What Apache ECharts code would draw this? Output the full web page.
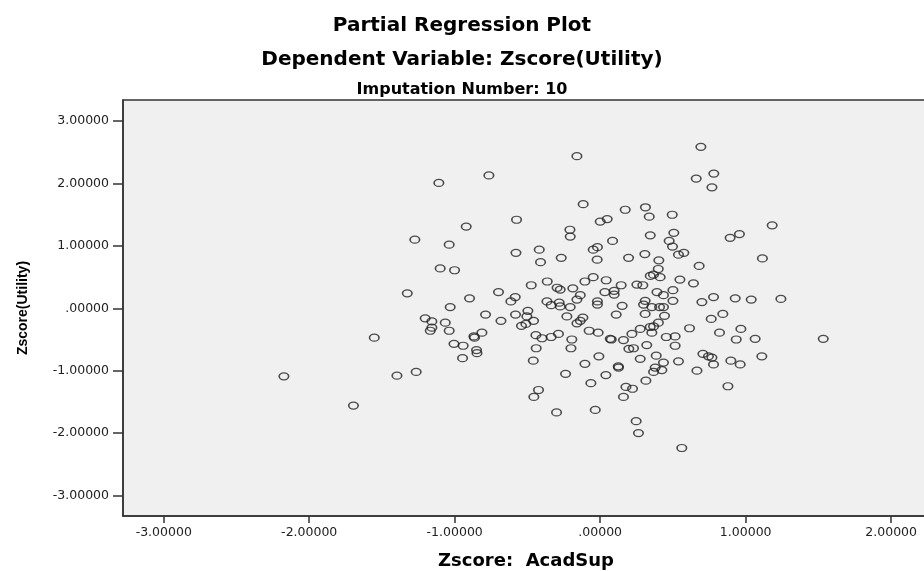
<!DOCTYPE html>
<html>
<head>
<meta charset="utf-8">
<script src="https://cdn.jsdelivr.net/npm/echarts@6/dist/echarts.min.js"></script>
<style>
  html, body { margin: 0; padding: 0; background: #fff; }
  #chart { width: 924px; height: 571px; }
</style>
</head>
<body>
<div id="chart"></div>
<script>
// Zscore: AcadSup (x) and Zscore(Utility) (y) residuals
const acadSup = [
  -0.16, -0.765, -1.109, -0.117, 0.172, -0.575, -0.921, 0.0, 0.048, -0.208,
  -0.206, -1.274, -1.038, 0.085, -0.048, -0.019, -0.579, -0.419, -0.41, -0.268,
  -0.021, 0.195, -1.10, -1.001, -1.326, -0.898, -0.699, -0.584, -0.614, -0.474,
  -0.364, -0.296, -0.275, -0.188, -0.137, -0.16, -0.105, -0.048, 0.041, 0.144,
  0.032, 0.096, 0.096, 0.252, -0.366, -0.282, -0.337, -0.275, -0.206, -0.019,
  -0.019, 0.151, -1.031, -0.497,
  0.692, 0.66, 0.781, 0.768, 0.311, 0.337, 0.495, 1.182, 0.893, 0.957,
  0.344, 0.506, 0.474, 0.497, 0.575, 0.538, 0.307, 0.403, 1.115, 0.399,
  0.68, 0.344, 0.366, 0.412, 0.548, 0.641, 0.293, 0.39, 0.435, 0.50,
  0.309, 0.298, 0.50, 0.699, 0.779, 0.928, 1.038, 1.242, 0.355, 0.408,
  0.435,
  -2.174, -1.696, -1.553,
  -1.397, -1.265, -1.203, -1.157, -1.168, -1.157, -1.065, -1.038, -0.788, -1.005,
  -0.942, -0.946, -0.868, -0.864, -0.813, -0.85, -0.847, -0.682, -0.582, -0.504,
  -0.541, -0.511, -0.458, -0.442, -0.40, -0.44, -0.46, -0.337, -0.287, -0.229,
  -0.16, -0.137, -0.119, -0.195, -0.201, -0.076, -0.014, 0.11, 0.069, 0.076,
  0.16, 0.218, 0.197, 0.229, -0.009, -0.105, -0.238, -0.064, 0.039, 0.124,
  0.126, 0.177, 0.222, 0.16, -0.424, -0.456, -0.30, -0.034, 0.247, 0.263,
  0.309, 0.442, 0.40, 0.275, 0.344, 0.355, 0.367, 0.454, 0.515, 0.515,
  0.32, 0.614, 0.763, 0.843, 0.82, 0.967, 0.935, 1.065, 1.533, 1.111,
  0.275, 0.385, 0.435, 0.378, 0.367, 0.424, 0.538, 0.314, 0.665, 0.706,
  0.744, 0.768, 0.779, 0.898, 0.962, 0.878, 0.561
];

const utility = [
  2.44, 2.13, 2.01, 1.67, 1.58, 1.42, 1.31, 1.39, 1.43, 1.26,
  1.15, 1.10, 1.02, 1.08, 0.94, 0.98, 0.89, 0.94, 0.74, 0.81,
  0.78, 0.81, 0.64, 0.61, 0.24, 0.16, 0.26, 0.18, 0.11, 0.37,
  0.43, 0.33, 0.30, 0.32, 0.21, 0.14, 0.43, 0.50, 0.45, 0.37,
  0.26, 0.28, 0.22, 0.38, 0.11, 0.09, 0.05, 0.03, 0.02, 0.11,
  0.06, 0.04, 0.02, -0.04,
  2.59, 2.08, 2.16, 1.94, 1.62, 1.47, 1.50, 1.33, 1.13, 1.19,
  1.17, 1.21, 1.08, 0.99, 0.89, 0.86, 0.87, 0.77, 0.80, 0.63,
  0.68, 0.52, 0.54, 0.50, 0.46, 0.40, 0.37, 0.26, 0.21, 0.29,
  0.12, 0.06, 0.12, 0.10, 0.18, 0.16, 0.14, 0.15, 0.02, 0.02,
  0.02,
  -1.09, -1.56, -0.47,
  -1.08, -1.02, -0.16, -0.21, -0.36, -0.31, -0.23, -0.36, -0.10, -0.57,
  -0.60, -0.80, -0.45, -0.47, -0.39, -0.67, -0.72, -0.20, -0.10, -0.13,
  -0.28, -0.25, -0.20, -0.43, -0.48, -0.64, -0.84, -0.46, -0.41, -0.13,
  -0.24, -0.20, -0.15, -0.50, -0.64, -0.36, -0.39, -0.10, -0.49, -0.50,
  -0.51, -0.41, -0.65, -0.64, -0.77, -0.89, -1.05, -1.20, -1.07, -0.93,
  -0.95, -1.26, -1.29, -1.42, -1.31, -1.42, -1.67, -1.63, -1.81, -2.00,
  -0.09, -0.12, -0.23, -0.33, -0.30, -0.39, -0.29, -0.46, -0.45, -0.60,
  -0.59, -0.32, -0.17, -0.09, -0.39, -0.33, -0.50, -0.49, -0.49, -0.77,
  -0.81, -0.76, -0.87, -0.95, -1.02, -0.99, -0.85, -1.16, -1.00, -0.73,
  -0.77, -0.79, -0.90, -0.84, -0.90, -1.25, -2.24
];

const xTicks = [-3, -2, -1, 0, 1, 2];
const yTicks = [-3, -2, -1, 0, 1, 2, 3];

// SPSS style: 5 decimals, zero shown as ".00000"
function fmt(v) {
  if (Math.abs(v) < 1e-9) return '.00000';
  return v.toFixed(5);
}

const points = acadSup.map((x, i) => [x, utility[i]]);

const chart = echarts.init(document.getElementById('chart'));

const tickLabel = {
  fontFamily: 'DejaVu Sans',
  fontSize: 12.5,
  color: '#222',
  formatter: fmt
};

const option = {
  backgroundColor: '#fff',
  animation: false,
  title: [
    {
      text: 'Partial Regression Plot',
      left: 'center',
      top: 11,
      textStyle: {fontFamily: 'DejaVu Sans', fontWeight: 'bold', fontSize: 20, color: '#000'}
    },
    {
      text: 'Dependent Variable: Zscore(Utility)',
      left: 'center',
      top: 45,
      textStyle: {fontFamily: 'DejaVu Sans', fontWeight: 'bold', fontSize: 20, color: '#000'}
    },
    {
      text: 'Imputation Number: 10',
      left: 'center',
      top: 77,
      textStyle: {fontFamily: 'DejaVu Sans', fontWeight: 'bold', fontSize: 16, color: '#000'}
    }
  ],
  grid: {
    left: 123,
    top: 100,
    right: -5,
    bottom: 55,
    containLabel: false,
    outerBoundsMode: 'none',
    show: true,
    backgroundColor: '#f0f0f0',
    borderColor: '#333',
    borderWidth: 1.5
  },
  xAxis: {
    type: 'value',
    min: -3.28,
    max: 2.26,
    name: 'Zscore:  AcadSup',
    nameLocation: 'middle',
    nameGap: 36,
    nameTextStyle: {fontFamily: 'DejaVu Sans', fontWeight: 'bold', fontSize: 18, color: '#000'},
    splitLine: {show: false},
    axisLine: {onZero: false, lineStyle: {color: '#333', width: 1.5}},
    axisTick: {show: true, length: 7, customValues: xTicks, lineStyle: {color: '#333', width: 1.5}},
    axisLabel: Object.assign({margin: 10, customValues: xTicks}, tickLabel)
  },
  yAxis: {
    type: 'value',
    min: -3.33,
    max: 3.34,
    name: 'Zscore(Utility)',
    nameLocation: 'middle',
    nameGap: 93,
    nameTextStyle: {fontFamily: 'Liberation Sans', fontWeight: 'bold', fontSize: 14, color: '#000'},
    splitLine: {show: false},
    axisLine: {show: true, onZero: false, lineStyle: {color: '#333', width: 1.5}},
    axisTick: {show: true, length: 10, customValues: yTicks, lineStyle: {color: '#333', width: 1.5}},
    axisLabel: Object.assign({margin: 14, customValues: yTicks}, tickLabel)
  },
  series: [
    {
      type: 'scatter',
      data: points,
      symbol: 'circle',
      symbolSize: [9.5, 7],
      itemStyle: {
        color: 'rgba(0,0,0,0)',
        borderColor: '#222',
        borderWidth: 1.4
      }
    }
  ]
};

chart.setOption(option);
</script>
</body>
</html>
